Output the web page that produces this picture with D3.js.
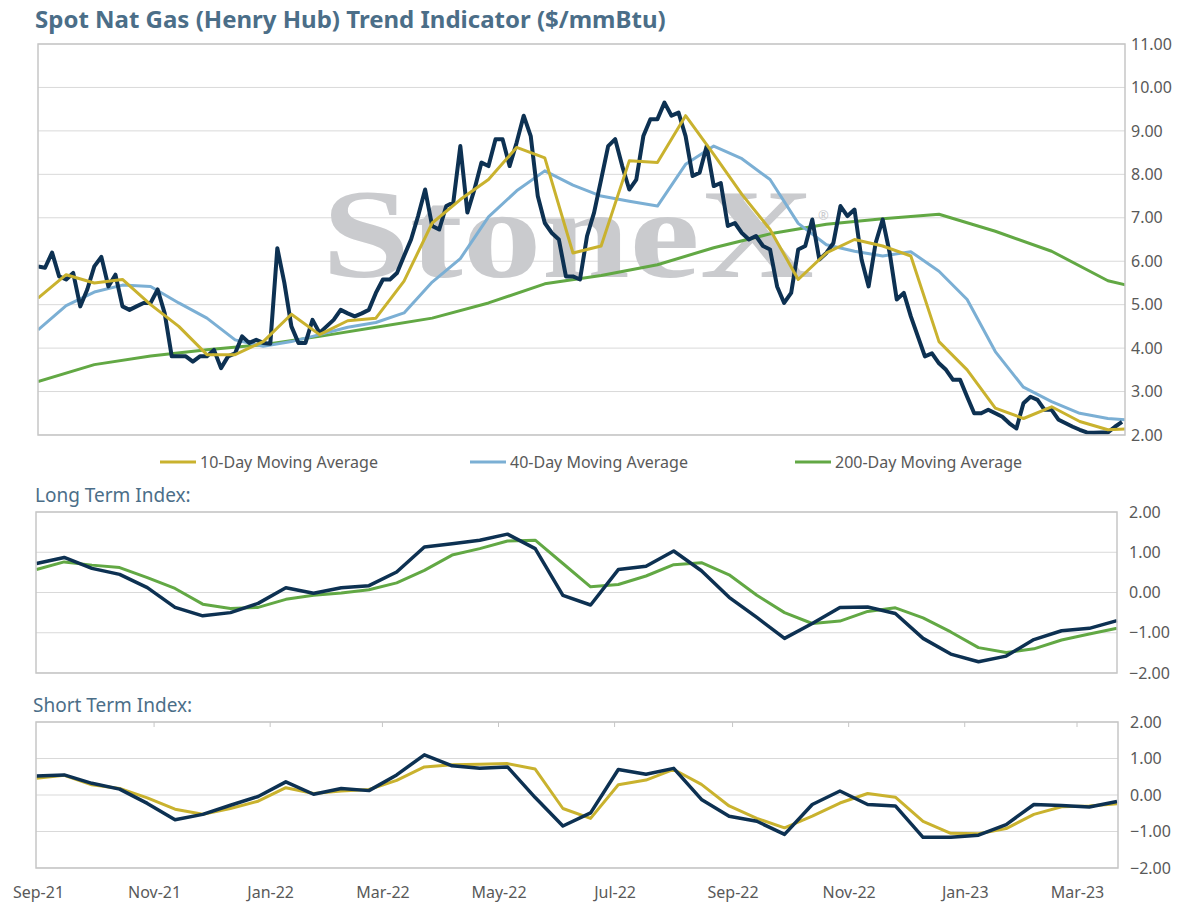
<!DOCTYPE html>
<html>
<head>
<meta charset="utf-8">
<script src="https://cdn.jsdelivr.net/npm/d3@7"></script>
<style>
  body { margin: 0; background: #fff; }
  svg text { font-family: "Noto Sans", Lato, sans-serif; }
</style>
</head>
<body>
<div id="chart"></div>
<script>
// spot price, sampled roughly every 3.75 days
var price = [5.88,5.85,6.2,5.65,5.58,5.73,4.96,5.35,5.88,6.1,5.42,5.69,4.96,4.88,4.96,5.04,5.04,5.35,4.8,3.81,
  3.81,3.81,3.69,3.81,3.81,3.96,3.54,3.81,3.88,4.27,4.12,4.19,4.12,4.1,6.3,5.5,4.5,4.12,4.12,4.65,
  4.35,4.5,4.65,4.88,4.8,4.73,4.8,4.88,5.27,5.58,5.58,5.73,6.12,6.5,7.04,7.65,6.81,6.73,7.27,7.35,
  8.65,7.12,7.65,8.27,8.19,8.81,8.81,8.19,8.73,9.35,8.88,7.5,6.88,6.65,6.5,5.65,5.65,5.58,
  6.58,7.12,7.88,8.65,8.81,8.19,7.65,7.88,8.88,9.27,9.27,9.65,9.35,9.42,8.88,7.96,8.04,8.65,7.73,7.8,
  6.81,6.88,6.65,6.5,6.58,6.35,6.27,5.42,5.04,5.27,6.27,6.35,6.96,6.04,6.19,6.42,7.27,7.04,7.19,6.04,
  5.42,6.42,6.96,6.19,5.12,5.27,4.73,4.27,3.81,3.88,3.65,3.5,3.27,3.27,2.88,2.5,2.5,2.58,2.5,2.42,
  2.27,2.15,2.73,2.88,2.81,2.58,2.58,2.35,2.27,2.19,2.12,2.06,2.05,2.06,2.06,2.19,2.3];
// moving averages, every 4th price sample (about two weeks)
var ma10 = [5.15,5.69,5.5,5.58,5.0,4.5,3.85,3.85,4.15,4.78,4.31,4.63,4.69,5.54,6.88,7.42,7.88,8.62,8.38,6.19,
  6.35,8.31,8.27,9.35,8.46,7.54,6.73,5.58,6.19,6.5,6.35,6.12,4.15,3.5,2.62,2.38,2.65,2.31,2.12,2.15];
var ma40 = [4.42,4.98,5.29,5.45,5.42,5.04,4.69,4.19,4.04,4.15,4.31,4.48,4.59,4.81,5.52,6.06,7.02,7.62,8.08,7.75,
  7.5,7.38,7.27,8.23,8.65,8.36,7.88,6.87,6.38,6.23,6.12,6.22,5.77,5.12,3.92,3.1,2.77,2.5,2.38,2.33];
// 200-day, every 8th price sample
var ma200 = [3.23,3.62,3.82,3.96,4.08,4.27,4.48,4.69,5.04,5.48,5.67,5.92,6.31,6.63,6.85,6.98,7.08,6.69,6.23,5.55,5.25];

// trend indexes, 40 samples across the period
var longIdx = [0.72,0.87,0.6,0.45,0.12,-0.37,-0.58,-0.5,-0.27,0.12,-0.02,0.12,0.17,0.51,1.13,1.21,1.3,1.45,1.09,-0.07,
  -0.31,0.57,0.65,1.03,0.54,-0.12,-0.62,-1.14,-0.77,-0.37,-0.36,-0.52,-1.14,-1.53,-1.72,-1.58,-1.17,-0.95,-0.89,-0.7];
var longAvg = [0.57,0.76,0.68,0.62,0.37,0.1,-0.29,-0.4,-0.37,-0.17,-0.07,-0.01,0.07,0.24,0.55,0.93,1.09,1.28,1.3,0.72,
  0.14,0.2,0.41,0.69,0.74,0.44,-0.07,-0.5,-0.77,-0.71,-0.47,-0.38,-0.63,-0.98,-1.37,-1.49,-1.4,-1.18,-1.03,-0.89];
var shortIdx = [0.52,0.55,0.32,0.16,-0.23,-0.68,-0.53,-0.28,-0.04,0.36,0.02,0.18,0.12,0.55,1.1,0.8,0.73,0.77,-0.07,-0.85,
  -0.49,0.7,0.57,0.73,-0.12,-0.58,-0.72,-1.08,-0.26,0.11,-0.26,-0.3,-1.16,-1.16,-1.1,-0.81,-0.26,-0.29,-0.33,-0.18];
var shortAvg = [0.46,0.54,0.28,0.18,-0.08,-0.39,-0.53,-0.37,-0.17,0.2,0.04,0.11,0.15,0.4,0.77,0.83,0.84,0.86,0.71,-0.37,
  -0.64,0.28,0.41,0.7,0.29,-0.3,-0.64,-0.9,-0.58,-0.22,0.04,-0.06,-0.72,-1.05,-1.06,-0.92,-0.53,-0.32,-0.3,-0.24];

var mainTicks = [2,3,4,5,6,7,8,9,10,11];
var idxTicks = [-2,-1,0,1,2];
var monthLabels = ["Sep-21","Nov-21","Jan-22","Mar-22","May-22","Jul-22","Sep-22","Nov-22","Jan-23","Mar-23"];
var legendItems = [["10-Day Moving Average", "#c9b22e"], ["40-Day Moving Average", "#7bafd4"], ["200-Day Moving Average", "#62a844"]];

var navy = "#0d3152", gold = "#c9b22e", sky = "#7bafd4", grass = "#62a844";
var titleColor = "#4b6e88", axisColor = "#595959", gridColor = "#d9d9d9", frameColor = "#c6c6c6";

var svg = d3.select("#chart").append("svg")
    .attr("width", 1198).attr("height", 909);

svg.append("text").attr("x", 35).attr("y", 28)
    .attr("font-size", 24).attr("font-weight", "bold").attr("fill", titleColor)
    .text("Spot Nat Gas (Henry Hub) Trend Indicator ($/mmBtu)");

// ---- main panel
var mL = 38, mR = 1125, mT = 44, mB = 435;
var xp = d3.scaleLinear().domain([0, price.length - 1]).range([38, 1122]);
var y = d3.scaleLinear().domain([2, 11]).range([mB, mT]);

svg.append("defs").append("clipPath").attr("id", "mainclip")
  .append("rect").attr("x", mL).attr("y", mT).attr("width", mR - mL).attr("height", mB - mT);

svg.selectAll(".mgrid").data(mainTicks).enter().append("line")
    .attr("x1", mL).attr("x2", mR)
    .attr("y1", function(d) { return y(d); }).attr("y2", function(d) { return y(d); })
    .attr("stroke", gridColor).attr("stroke-width", 1);

// watermark
svg.append("text").attr("x", 322).attr("y", 277)
    .style("font-family", "'Liberation Serif', 'DejaVu Serif', serif").attr("font-size", 128)
    .attr("font-weight", "bold")
    .attr("textLength", 492).attr("lengthAdjust", "spacingAndGlyphs")
    .attr("fill", "#cacbce").text("StoneX");
svg.append("text").attr("x", 818).attr("y", 220).attr("font-size", 13).attr("fill", "#cacbce").text("®");

var g = svg.append("g").attr("clip-path", "url(#mainclip)");
function addLine(data, xs, ys, color, w, grp) {
  grp.append("path").datum(data)
    .attr("fill", "none").attr("stroke", color).attr("stroke-width", w)
    .attr("stroke-linejoin", "round")
    .attr("d", d3.line().x(function(d, i) { return xs(i); }).y(function(d) { return ys(d); }));
}
var x4 = function(i) { return xp(i * 4); };
var x8 = function(i) { return xp(i * 8); };
addLine(ma200, x8, y, grass, 3, g);
addLine(ma40, x4, y, sky, 3, g);
addLine(price, xp, y, navy, 4, g);
addLine(ma10, x4, y, gold, 3, g);

svg.append("rect").attr("x", mL).attr("y", mT).attr("width", mR - mL).attr("height", mB - mT)
    .attr("fill", "none").attr("stroke", frameColor).attr("stroke-width", 1.5);

var yAxis = d3.axisRight(y).tickValues(mainTicks).tickFormat(d3.format(".2f")).tickSize(0).tickPadding(6);
svg.append("g").attr("transform", "translate(" + mR + ",0)").call(yAxis)
   .call(function(a) { a.select(".domain").remove(); a.selectAll("text").attr("font-size", 16).attr("fill", axisColor).attr("font-family", "'Noto Sans', Lato, sans-serif"); });

// legend
var lx = [160, 470, 795];
var leg = svg.selectAll(".leg").data(legendItems).enter().append("g")
    .attr("transform", function(d, i) { return "translate(" + lx[i] + ",462)"; });
leg.append("line").attr("x1", 0).attr("x2", 36).attr("stroke", function(d) { return d[1]; }).attr("stroke-width", 3);
leg.append("text").attr("x", 40).attr("y", 6).attr("font-size", 16).attr("fill", axisColor).text(function(d) { return d[0]; });

// ---- index panels
var xi = d3.scaleLinear().domain([0, longIdx.length - 1]).range([36.5, 1117]);
function panel(top, bottom, right, title, titleX, a, aColor, b, bColor) {
  var ys = d3.scaleLinear().domain([-2, 2]).range([bottom, top]);
  svg.append("text").attr("x", titleX).attr("y", top - 10).attr("font-size", 19).attr("fill", titleColor).text(title);
  svg.selectAll(null).data(idxTicks).enter().append("line")
    .attr("x1", 36).attr("x2", right)
    .attr("y1", function(d) { return ys(d); }).attr("y2", function(d) { return ys(d); })
    .attr("stroke", gridColor);
  var pg = svg.append("g");
  addLine(b, xi, ys, bColor, 3, pg);
  addLine(a, xi, ys, aColor, 3.5, pg);
  svg.append("rect").attr("x", 36).attr("y", top).attr("width", right - 36).attr("height", bottom - top)
    .attr("fill", "none").attr("stroke", frameColor).attr("stroke-width", 1.5);
  var ax = d3.axisRight(ys).tickValues(idxTicks).tickFormat(d3.format(".2f")).tickSize(0).tickPadding(12);
  svg.append("g").attr("transform", "translate(" + right + ",0)").call(ax)
   .call(function(s) { s.select(".domain").remove(); s.selectAll("text").attr("font-size", 16).attr("fill", axisColor).attr("font-family", "'Noto Sans', Lato, sans-serif"); });
}
panel(512, 673, 1117, "Long Term Index:", 35, longIdx, navy, longAvg, grass);
panel(722, 868, 1118, "Short Term Index:", 33, shortIdx, navy, shortAvg, gold);

// month axis at the bottom
var xt = d3.scaleTime().domain([new Date(2021, 8, 1), new Date(2023, 2, 1)]).range([38, 1077]);
var xAxis = d3.axisBottom(xt).ticks(d3.timeMonth.every(2)).tickSize(0).tickPadding(19)
    .tickFormat(function(d, i) { return monthLabels[i]; });
svg.append("g").attr("transform", "translate(0,868)").call(xAxis)
   .call(function(s) { s.select(".domain").remove(); s.selectAll("text").attr("font-size", 16).attr("fill", axisColor).attr("font-family", "'Noto Sans', Lato, sans-serif"); });
svg.selectAll(".tmark").data(monthLabels.slice(1)).enter().append("line")
    .attr("x1", function(d, i) { return xt(d3.timeMonth.offset(new Date(2021, 8, 1), (i + 1) * 2)); })
    .attr("x2", function(d, i) { return xt(d3.timeMonth.offset(new Date(2021, 8, 1), (i + 1) * 2)); })
    .attr("y1", 722).attr("y2", 727).attr("stroke", frameColor);
</script>
</body>
</html>
